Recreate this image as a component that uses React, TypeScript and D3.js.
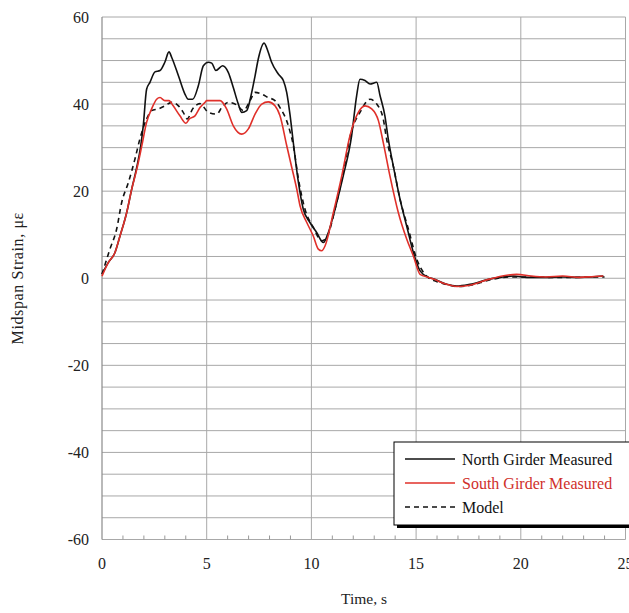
import React from "react";
import * as d3 from "d3";

// North girder measured (black)
const northT = [0, 0.3, 0.62, 0.86, 1.18, 1.42, 1.66, 1.85, 1.97, 2.13, 2.29, 2.53, 2.77, 3.0, 3.2, 3.33, 3.65, 3.96, 4.12, 4.33, 4.6, 4.84, 5.08, 5.24, 5.44, 5.76, 6.03, 6.27, 6.51, 6.67, 6.91, 7.15, 7.31, 7.46, 7.74, 7.94, 8.1, 8.42, 8.66, 8.82, 8.98, 9.14, 9.38, 9.61, 9.93, 10.25, 10.57, 10.81, 11.13, 11.52, 11.92, 12.16, 12.32, 12.56, 12.8, 13.12, 13.28, 13.51, 13.67, 13.91, 14.23, 14.55, 14.87, 15.19, 15.59, 15.82, 16.46, 16.94, 17.57, 18.5, 19.0, 19.64, 20.3, 21.2, 22.0, 22.8, 23.4, 23.94];
const northV = [1, 3.6, 5.9, 9.7, 15.1, 20.5, 25.5, 30.4, 35, 43.4, 45, 47.4, 47.7, 49.6, 52, 50.7, 46.5, 42.3, 41.1, 41.1, 44.2, 48.8, 49.6, 49.4, 47.7, 48.8, 47.3, 43.8, 40, 38.1, 38.5, 42.7, 46.5, 50.3, 54, 51.9, 49.6, 46.9, 45.4, 42.7, 37.5, 31, 22, 15.9, 12.8, 10.5, 8.2, 10.5, 15.9, 23.5, 32.7, 41.9, 45.7, 45.4, 44.6, 45, 41.9, 37.3, 32, 25.8, 18.2, 12, 5.9, 1.7, 0.2, -0.1, -1.4, -1.8, -1.4, -0.2, 0.2, 0.5, 0.2, 0.2, 0.3, 0.2, 0.3, 0.5];

// South girder measured (red)
const southT = [0, 0.3, 0.62, 0.86, 1.18, 1.42, 1.66, 1.9, 2.13, 2.37, 2.61, 2.77, 3.0, 3.2, 3.4, 3.72, 4.01, 4.17, 4.44, 4.68, 4.92, 5.0, 5.64, 5.95, 6.27, 6.67, 6.99, 7.31, 7.63, 7.94, 8.26, 8.5, 8.82, 9.06, 9.3, 9.46, 9.78, 10.09, 10.33, 10.49, 10.65, 11.05, 11.45, 11.84, 12.24, 12.56, 12.88, 13.2, 13.43, 13.75, 14.15, 14.55, 14.87, 15.19, 15.59, 15.82, 16.46, 16.94, 17.57, 18.5, 19.33, 19.8, 20.5, 21.2, 22.0, 22.8, 23.5, 23.94];
const southV = [0.5, 3.6, 5.9, 9.7, 15.1, 20.5, 25, 30.4, 35.8, 38.9, 41.1, 41.5, 40.8, 40.8, 39.6, 37.3, 35.6, 36.6, 37.3, 39.2, 40.4, 40.8, 40.8, 38.9, 35, 33.1, 34.3, 37.7, 40, 40.5, 39.6, 37.3, 30.5, 25.5, 20.5, 16.6, 12.8, 9.7, 6.7, 6.3, 7.4, 15.1, 23.5, 32.7, 38.1, 39.6, 38.9, 36.2, 31.2, 23.5, 15.1, 9, 5.1, 0.9, 0.2, -0.2, -1.4, -1.9, -1.6, -0.2, 0.7, 0.9, 0.5, 0.3, 0.5, 0.2, 0.4, 0.5];

// Model (dashed)
const modelT = [0, 0.38, 0.7, 0.94, 1.26, 1.58, 1.81, 2.13, 2.37, 2.69, 3.0, 3.33, 3.65, 3.88, 4.07, 4.33, 4.68, 5.08, 5.48, 5.72, 6.03, 6.43, 6.75, 7.07, 7.31, 7.63, 7.94, 8.26, 8.5, 8.9, 9.14, 9.38, 9.69, 10.09, 10.49, 10.73, 11.13, 11.52, 11.92, 12.32, 12.8, 13.12, 13.43, 13.59, 13.91, 14.23, 14.63, 15.03, 15.5, 16.0, 16.5, 17.0, 17.6, 18.5, 19.5, 20.5, 21.5, 22.5, 23.5, 24.0];
const modelV = [0.9, 6.7, 11.3, 17.4, 22, 27.5, 32, 36.6, 38.5, 38.9, 39.6, 40.4, 39.6, 38.1, 36.6, 38.9, 40.1, 38.1, 37.7, 39.2, 40.4, 39.8, 38.5, 40.8, 42.7, 42.3, 41.5, 40.8, 39.2, 35, 30.4, 22.8, 15.9, 11.7, 8.6, 9.4, 15.9, 24.3, 33.9, 38.1, 41.1, 40, 36.6, 32, 25.8, 18.2, 11.3, 4.4, 0.5, -0.8, -1.5, -1.9, -1.6, -0.4, 0.3, 0.3, 0.2, 0.2, 0.3, 0.3];

const xTicks = [0, 5, 10, 15, 20, 25];
const yTicks = [-60, -40, -20, 0, 20, 40, 60];
const legendLabels = ["North Girder Measured", "South Girder Measured", "Model"];

const W = 629;
const H = 613;
const font = "'Liberation Serif', 'Times New Roman', serif";

const x = d3.scaleLinear().domain([0, 25]).range([102, 625.5]);
const y = d3.scaleLinear().domain([-60, 60]).range([539.5, 17]);

const line = d3
  .line<[number, number]>()
  .x((d) => x(d[0]))
  .y((d) => y(d[1]))
  .curve(d3.curveMonotoneX);

const zip = (t: number[], v: number[]) => t.map((tt, i) => [tt, v[i]] as [number, number]);

const series = [
  { pts: zip(northT, northV), color: "#111", dash: "" },
  { pts: zip(modelT, modelV), color: "#111", dash: "5,4" },
  { pts: zip(southT, southV), color: "#e0302a", dash: "" },
];

export default function App() {
  const hLines = d3.range(-60, 61, 5);
  const minor = d3.range(0, 26, 1).filter((d) => d % 5 !== 0);
  const legend = [
    { label: legendLabels[0], color: "#111", dash: "", text: "#111" },
    { label: legendLabels[1], color: "#e0302a", dash: "", text: "#d0302a" },
    { label: legendLabels[2], color: "#111", dash: "5,4", text: "#111" },
  ];
  return (
    <>
      <style>{`body{margin:0}`}</style>
      <svg width={W} height={H} style={{ display: "block", background: "#fff" }} fontFamily={font}>
        {/* horizontal grid */}
        {hLines.map((v) => (
          <line key={"h" + v} x1={x(0)} x2={x(25)} y1={y(v)} y2={y(v)} stroke="#a8a8a8" strokeWidth={1} />
        ))}
        {/* vertical grid */}
        {xTicks.slice(1).map((t) => (
          <line key={"v" + t} x1={x(t)} x2={x(t)} y1={y(60)} y2={y(-60)} stroke="#a8a8a8" strokeWidth={1} />
        ))}
        <line x1={x(0)} x2={x(0)} y1={y(60)} y2={y(-60)} stroke="#8a8a8a" strokeWidth={1.2} />
        {/* minor x ticks */}
        {minor.map((t) => (
          <line key={"m" + t} x1={x(t)} x2={x(t)} y1={y(-60)} y2={y(-60) - 4} stroke="#999" strokeWidth={1} />
        ))}
        {/* y tick labels */}
        {yTicks.map((v) => (
          <text key={"yl" + v} x={89} y={y(v) + 5.5} textAnchor="end" fontSize={16} fill="#222">
            {v}
          </text>
        ))}
        {/* x tick labels */}
        {xTicks.map((t) => (
          <text key={"xl" + t} x={x(t)} y={569} textAnchor="middle" fontSize={16} fill="#222">
            {t}
          </text>
        ))}
        <text x={364} y={604} textAnchor="middle" fontSize={15.5} fill="#222">
          Time, s
        </text>
        <text transform={`translate(23,${y(0)}) rotate(-90)`} textAnchor="middle" fontSize={16} fill="#222" letterSpacing={0.6}>
          Midspan Strain, με
        </text>
        {/* series */}
        {series.map((s, i) => (
          <path key={"s" + i} d={line(s.pts) || ""} fill="none" stroke={s.color} strokeWidth={1.6} strokeDasharray={s.dash} />
        ))}
        {/* legend */}
        <g>
          <rect x={397} y={445} width={250} height={83} fill="#000" />
          <rect x={394} y={442} width={250} height={83} fill="#fff" stroke="#000" strokeWidth={1} />
          {legend.map((l, i) => (
            <g key={"lg" + i}>
              <line x1={405} x2={455} y1={459 + i * 24} y2={459 + i * 24} stroke={l.color} strokeWidth={1.6} strokeDasharray={l.dash} />
              <text x={462} y={464.5 + i * 24} fontSize={16} fill={l.text}>
                {l.label}
              </text>
            </g>
          ))}
        </g>
      </svg>
    </>
  );
}
